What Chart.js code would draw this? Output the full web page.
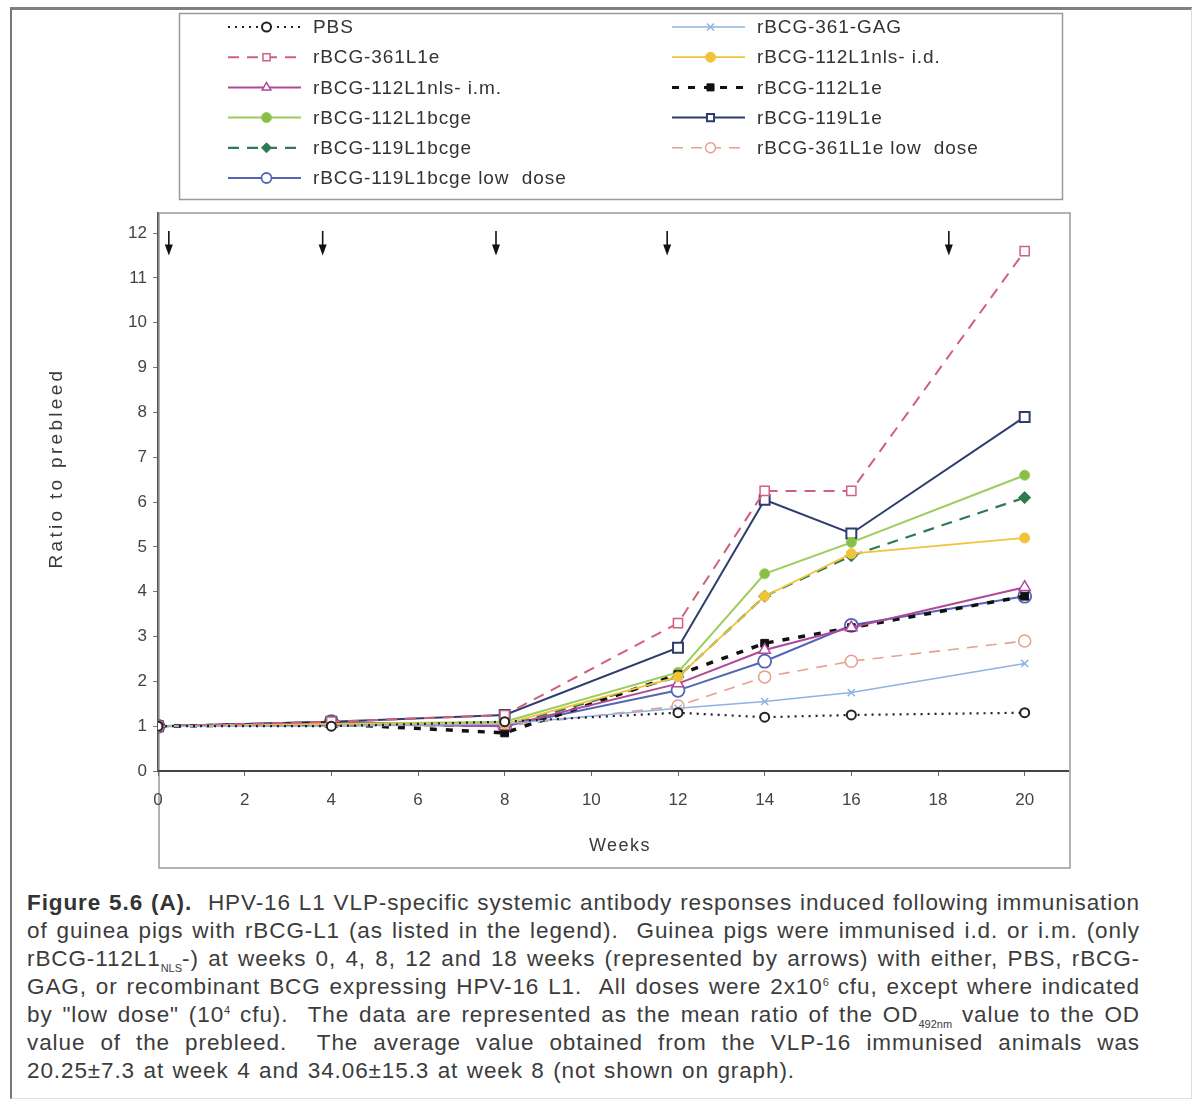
<!DOCTYPE html>
<html><head><meta charset="utf-8">
<script src="https://cdn.jsdelivr.net/npm/chart.js@4"></script>
<style>
html,body{margin:0;padding:0;background:#fff;}
body{width:1195px;height:1106px;position:relative;overflow:hidden;font-family:"Liberation Sans",Arial,sans-serif;}
#frame{position:absolute;left:10px;top:7px;width:1182px;height:1092px;border-left:2px solid #777;border-top:3px solid #808080;border-right:1px solid #ddd;border-bottom:1px solid #ddd;box-sizing:border-box;}
#wrap{position:absolute;left:0;top:0;width:1195px;height:880px;}
#cap{position:absolute;left:27px;top:889px;width:1113px;color:#3c3c3c;font-size:22.5px;letter-spacing:0.9px;}
.ln{height:28px;line-height:28px;white-space:nowrap;text-align:justify;text-align-last:justify;}
.ln.last{width:768px;}
.ln b{color:#333;}
sub,sup{font-size:11px;line-height:0;letter-spacing:0;}
</style></head>
<body>
<div id="frame"></div>
<div id="wrap"><canvas id="c" width="1195" height="880"></canvas></div>
<div id="cap">
<div class="ln"><b>Figure 5.6 (A).</b>&nbsp; HPV-16 L1 VLP-specific systemic antibody responses induced following immunisation</div>
<div class="ln">of guinea pigs with rBCG-L1 (as listed in the legend).&nbsp; Guinea pigs were immunised i.d. or i.m. (only</div>
<div class="ln">rBCG-112L1<sub>NLS</sub>-) at weeks 0, 4, 8, 12 and 18 weeks (represented by arrows) with either, PBS, rBCG-</div>
<div class="ln">GAG, or recombinant BCG expressing HPV-16 L1.&nbsp; All doses were 2x10<sup>6</sup> cfu, except where indicated</div>
<div class="ln">by "low dose" (10<sup>4</sup> cfu).&nbsp; The data are represented as the mean ratio of the OD<sub>492nm</sub> value to the OD</div>
<div class="ln">value of the prebleed.&nbsp; The average value obtained from the VLP-16 immunised animals was</div>
<div class="ln last">20.25±7.3 at week 4 and 34.06±15.3 at week 8 (not shown on graph).</div>
</div>
<script>
// ---- data ----
const weeks = [0, 4, 8, 12, 14, 16, 20];
const pbs        = [1.0, 1.0, 1.1, 1.3, 1.2, 1.25, 1.3];
const gag361     = [1.0, 1.0, 1.05, 1.4, 1.55, 1.75, 2.4];
const l1e361     = [1.0, 1.1, 1.25, 3.3, 6.25, 6.25, 11.6];
const nlsId112   = [1.0, 1.05, 1.05, 2.1, 3.9, 4.85, 5.2];
const nlsIm112   = [1.0, 1.05, 1.0, 1.95, 2.7, 3.2, 4.1];
const l1e112     = [1.0, 1.05, 0.85, 2.15, 2.85, 3.2, 3.9];
const bcge112    = [1.0, 1.05, 1.1, 2.2, 4.4, 5.1, 6.6];
const l1e119     = [1.0, 1.1, 1.25, 2.75, 6.05, 5.3, 7.9];
const bcge119    = [1.0, 1.05, 1.0, 2.1, 3.9, 4.8, 6.1];
const l1e361Low  = [1.0, 1.05, 1.0, 1.45, 2.1, 2.45, 2.9];
const bcge119Low = [1.0, 1.1, 1.0, 1.8, 2.45, 3.25, 3.9];
const seriesNames = ["PBS", "rBCG-361-GAG", "rBCG-361L1e", "rBCG-112L1nls- i.d.", "rBCG-112L1nls- i.m.",
  "rBCG-112L1e", "rBCG-112L1bcge", "rBCG-119L1e", "rBCG-119L1bcge", "rBCG-361L1e low  dose", "rBCG-119L1bcge low  dose"];
const seriesValues = [pbs, gag361, l1e361, nlsId112, nlsIm112, l1e112, bcge112, l1e119, bcge119, l1e361Low, bcge119Low];
const xTicks = [0, 2, 4, 6, 8, 10, 12, 14, 16, 18, 20];
const yTicks = [0, 1, 2, 3, 4, 5, 6, 7, 8, 9, 10, 11, 12];
const arrowWeeks = [0.25, 3.8, 7.8, 11.75, 18.25];
const xTitle = "Weeks";
const yTitle = "Ratio to prebleed";

// ---- styles ----
const styles = [
  {c:'#222222', w:2.2, dash:[2,5], ps:'circle', r:4.5, bg:'#ffffff', bw:2},
  {c:'#8fb3e3', w:1.5, dash:[], ps:'crossRot', r:5, bg:'#8fb3e3', bw:1.5},
  {c:'#d0607e', w:2, dash:[11,8], ps:'rect', r:6.5, bg:'#ffffff', bw:1.5},
  {c:'#f0c43a', w:1.8, dash:[], ps:'circle', r:5, bg:'#f0c43a', bw:1},
  {c:'#b0489a', w:2, dash:[], ps:'triangle', r:6.5, bg:'#ffffff', bw:1.5},
  {c:'#111111', w:3.5, dash:[7,9], ps:'rect', r:5.5, bg:'#111111', bw:1},
  {c:'#9bcc5c', w:2, dash:[], ps:'circle', r:5, bg:'#88bf48', bw:1},
  {c:'#2e3d6e', w:2, dash:[], ps:'rect', r:7, bg:'#ffffff', bw:2},
  {c:'#2f7a52', w:2.2, dash:[11,8], ps:'rectRot', r:6, bg:'#2f7a52', bw:1},
  {c:'#e6a090', w:1.6, dash:[11,8], ps:'circle', r:6, bg:'#ffffff', bw:1.5},
  {c:'#5565b5', w:2, dash:[], ps:'circle', r:6.5, bg:'#ffffff', bw:1.8}
];

const datasets = seriesValues.map((vals, i) => {
  const s = styles[i];
  return {
    label: seriesNames[i],
    data: weeks.map((w, k) => ({x: w, y: vals[k]})),
    borderColor: s.c, borderWidth: s.w, borderDash: s.dash,
    pointStyle: s.ps, pointRadius: s.r, pointBackgroundColor: s.bg,
    pointBorderColor: s.c, pointBorderWidth: s.bw, tension: 0, fill: false
  };
});

const decor = {
  id: 'decor',
  beforeDraw(chart) {
    const ctx = chart.ctx, a = chart.chartArea;
    ctx.save();
    ctx.strokeStyle = '#9a9a9a'; ctx.lineWidth = 1.5;
    ctx.strokeRect(179.5, 13.5, 883, 186);       // legend box
    ctx.strokeRect(a.left + 1, a.top, 911, 655);  // plot frame
    ctx.restore();
  },
  afterDraw(chart) {
    const ctx = chart.ctx, a = chart.chartArea;
    const xs = chart.scales.x, ys = chart.scales.y;
    ctx.save();
    // arrows
    ctx.fillStyle = '#111'; ctx.strokeStyle = '#111'; ctx.lineWidth = 1.6;
    arrowWeeks.forEach(w => {
      const x = xs.getPixelForValue(w);
      const y0 = ys.getPixelForValue(12.05), y1 = ys.getPixelForValue(11.5);
      ctx.beginPath(); ctx.moveTo(x, y0); ctx.lineTo(x, y1 - 8); ctx.stroke();
      ctx.beginPath(); ctx.moveTo(x - 4, y1 - 11); ctx.lineTo(x + 4, y1 - 11); ctx.lineTo(x, y1); ctx.closePath(); ctx.fill();
    });
    // axis titles
    ctx.fillStyle = '#3a3a3a';
    ctx.textAlign = 'center'; ctx.textBaseline = 'middle';
    ctx.font = '18px "Liberation Sans", Arial, sans-serif';
    if (ctx.letterSpacing !== undefined) ctx.letterSpacing = '1.5px';
    ctx.fillText(xTitle, (a.left + a.right) / 2 + 7, 846);
    ctx.font = '19px "Liberation Sans", Arial, sans-serif';
    if (ctx.letterSpacing !== undefined) ctx.letterSpacing = '3.3px';
    ctx.translate(57, (a.top + a.bottom) / 2 - 24);
    ctx.rotate(-Math.PI / 2);
    ctx.fillText(yTitle, 0, 0);
    ctx.restore();
    // legend
    ctx.save();
    ctx.font = '19px "Liberation Sans", Arial, sans-serif';
    ctx.textBaseline = 'middle'; ctx.textAlign = 'left';
    const colX = [228, 672], rowY0 = 27, rowStep = 30.2, sampleW = 73;
    chart.data.datasets.forEach((ds, i) => {
      const col = i % 2, row = Math.floor(i / 2);
      const x0 = colX[col], y = rowY0 + row * rowStep;
      ctx.strokeStyle = ds.borderColor; ctx.lineWidth = Math.min(ds.borderWidth, 3);
      ctx.setLineDash(ds.borderDash || []);
      ctx.beginPath(); ctx.moveTo(x0, y); ctx.lineTo(x0 + sampleW, y); ctx.stroke();
      ctx.setLineDash([]);
      ctx.fillStyle = ds.pointBackgroundColor; ctx.strokeStyle = ds.pointBorderColor;
      ctx.lineWidth = ds.pointBorderWidth;
      Chart.helpers.drawPoint(ctx, {pointStyle: ds.pointStyle, radius: Math.min(ds.pointRadius, 5), borderWidth: ds.pointBorderWidth, rotation: 0}, x0 + sampleW / 2 + 2, y);
      ctx.fillStyle = '#333';
      if (ctx.letterSpacing !== undefined) ctx.letterSpacing = '0.9px';
      ctx.fillText(ds.label, x0 + sampleW + 12, y + 1);
      if (ctx.letterSpacing !== undefined) ctx.letterSpacing = '0px';
    });
    ctx.restore();
  }
};

new Chart(document.getElementById('c'), {
  type: 'line',
  data: {datasets},
  options: {
    responsive: false, animation: false,
    layout: {padding: {left: 20, top: 213, right: 127, bottom: 19}},
    plugins: {legend: {display: false}, tooltip: {enabled: false}},
    scales: {
      x: {
        type: 'linear', min: 0, max: 21,
        afterBuildTicks: s => { s.ticks = xTicks.map(v => ({value: v})); },
        afterFit: s => { s.height = 90; },
        grid: {drawOnChartArea: false, drawTicks: true, tickLength: 5, color: '#666'},
        border: {display: true, color: '#444', width: 2},
        ticks: {color: '#444', font: {size: 17, family: '"Liberation Sans", Arial, sans-serif'}, padding: 14, maxRotation: 0, autoSkip: false}
      },
      y: {
        type: 'linear', min: 0, max: 12.45,
        afterBuildTicks: s => { s.ticks = yTicks.map(v => ({value: v})); },
        afterFit: s => { s.width = 138; },
        grid: {drawOnChartArea: false, drawTicks: true, tickLength: 5, color: '#777'},
        border: {display: true, color: '#555', width: 1.5},
        ticks: {color: '#444', font: {size: 17, family: '"Liberation Sans", Arial, sans-serif'}, padding: 6, autoSkip: false}
      }
    }
  },
  plugins: [decor]
});
</script>
</body></html>
